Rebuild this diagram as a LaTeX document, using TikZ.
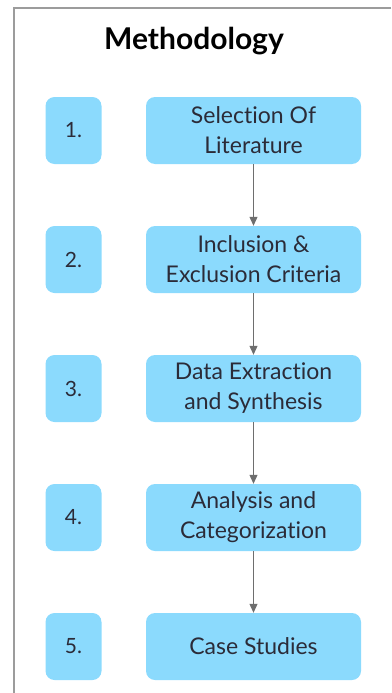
\documentclass[tikz,border=0pt]{standalone}
\usepackage{fontspec}
\setmainfont{Lato}[Ligatures=NoCommon]
\usetikzlibrary{arrows.meta}
\definecolor{boxblue}{HTML}{8BDAFD}
\definecolor{boxtext}{HTML}{2B2B38}
\definecolor{arrowgray}{HTML}{6E6E6E}
\definecolor{framegray}{HTML}{9C9C9C}
\tikzset{
  numbox/.style={fill=boxblue, rounded corners=9pt, minimum width=56pt, minimum height=67pt, text=boxtext, font=\fontsize{21}{26}\selectfont},
  stepbox/.style={fill=boxblue, rounded corners=9pt, minimum width=215pt, minimum height=67pt, inner sep=2pt, text=boxtext, align=center, font=\fontsize{23}{30}\selectfont},
  flow/.style={draw=arrowgray, line width=1pt, -{Triangle[width=8pt,length=9pt]}}
}

\begin{document}
\begin{tikzpicture}[x=1pt,y=-1pt]
  \useasboundingbox (0,0) rectangle (391,693);
  \draw[framegray, line width=2pt] (391,8) -- (14,8) -- (14,693);
  \node[font=\bfseries\fontsize{30}{36}\selectfont, text=black] (title) at (194,41) {Methodology};

  \node[numbox] (n1) at (73.5,130.5) {1.};
  \node[numbox] (n2) at (73.5,259.5) {2.};
  \node[numbox] (n3) at (73.5,388.5) {3.};
  \node[numbox] (n4) at (73.5,517.5) {4.};
  \node[numbox] (n5) at (73.5,646.5) {5.};

  \node[stepbox] (s1) at (253.5,130.5) {Selection Of\\Literature};
  \node[stepbox] (s2) at (253.5,259.5) {Inclusion \&\\Exclusion Criteria};
  \node[stepbox] (s3) at (253.5,388.5) {Data Extraction\\and Synthesis};
  \node[stepbox] (s4) at (253.5,517.5) {Analysis and\\Categorization};
  \node[stepbox] (s5) at (253.5,646.5) {Case Studies};

  \foreach \a/\b in {s1/s2,s2/s3,s3/s4,s4/s5}
    \draw[flow] (\a) -- (\b);
\end{tikzpicture}
\end{document}
